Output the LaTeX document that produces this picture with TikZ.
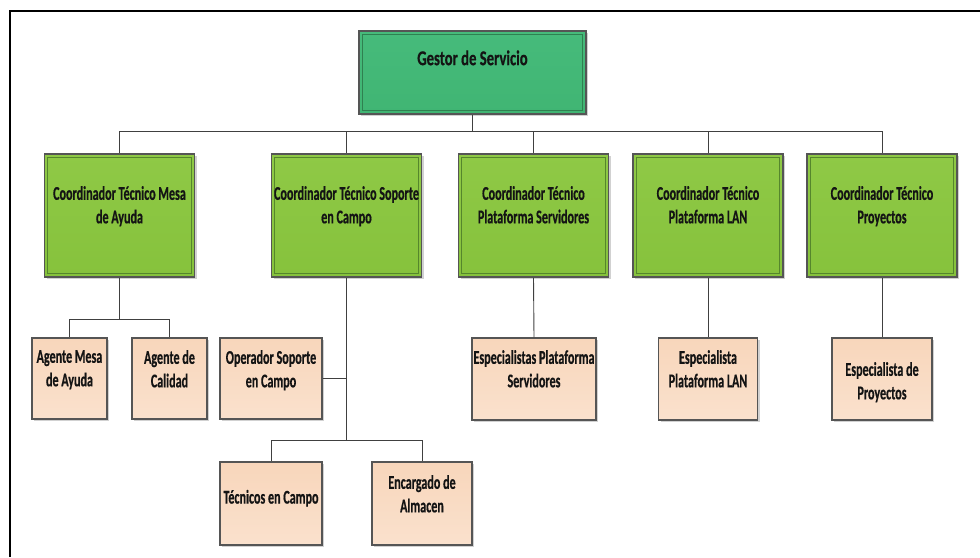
\documentclass[tikz,border=0pt]{standalone}
\usepackage{fontspec}
\usetikzlibrary{shadows}
\newfontfamily\orgfont[FakeStretch=0.62, FakeBold=0.5]{Carlito}
\newfontfamily\topfont[FakeStretch=0.70, FakeBold=0.5]{Carlito}
\definecolor{edgegray}{HTML}{555555}
\definecolor{linkgray}{HTML}{404040}
\definecolor{topfill}{HTML}{46BB7B}
\definecolor{topfilldark}{HTML}{40B573}
\definecolor{topinner}{HTML}{2F8050}
\definecolor{midfill}{HTML}{8FC946}
\definecolor{midfilldark}{HTML}{86C23C}
\definecolor{midinner}{HTML}{55862C}
\definecolor{lowtop}{HTML}{F8D6BB}
\definecolor{lowbottom}{HTML}{FAE1CD}
\tikzset{
  shadowed/.style={drop shadow={shadow xshift=2pt, shadow yshift=-2pt, opacity=0.3, fill=black!60}},
  innerframe/.style={path picture={
      \draw[#1, line width=1.3pt]
        ([shift={(3.2pt,-3.2pt)}]path picture bounding box.north west) rectangle
        ([shift={(-3.2pt,3.2pt)}]path picture bounding box.south east);}},
  boxbase/.style={rectangle, inner sep=0pt, draw=edgegray, line width=1.1pt, shadowed},
  topbox/.style={boxbase, minimum width=227pt, minimum height=83pt,
      top color=topfill, bottom color=topfilldark, innerframe=topinner},
  midbox/.style={boxbase, minimum width=150pt, minimum height=123pt,
      top color=midfill, bottom color=midfilldark, innerframe=midinner},
  lowbox/.style={boxbase, top color=lowtop, bottom color=lowbottom},
  toptext/.style={anchor=north, inner sep=0pt, align=center,
      font=\topfont\bfseries\fontsize{21}{25}\selectfont, text=black!92,
      execute at begin node=\strut},
  orgtext/.style={anchor=north, inner sep=0pt, align=center,
      font=\orgfont\bfseries\fontsize{19.5}{23.5}\selectfont, text=black!92,
      execute at begin node=\strut},
  link/.style={draw=linkgray, line width=0.9pt},
}
\begin{document}
\begin{tikzpicture}[x=1pt, y=-1pt]
  \useasboundingbox (0,0) rectangle (980,557);
  % page frame
  \draw[line width=2.4pt] (10,557) -- (10,11) -- (980,11);

  % top level
  \node[topbox, label={[toptext, name=gt, yshift=-17pt]north:Gestor de Servicio}] (g) at (472.5,72.5) {};

  % coordinators
  \node[midbox, label={[orgtext, name=c1t, yshift=-32.5pt]north:{Coordinador Técnico Mesa\\de Ayuda}}] (c1) at (119.5,215.5) {};
  \node[midbox, label={[orgtext, name=c2t, yshift=-32.5pt]north:{Coordinador Técnico Soporte\\en Campo}}] (c2) at (346.5,215.5) {};
  \node[midbox, label={[orgtext, name=c3t, yshift=-32.5pt]north:{Coordinador Técnico\\Plataforma Servidores}}] (c3) at (533.5,215.5) {};
  \node[midbox, label={[orgtext, name=c4t, yshift=-32.5pt]north:{Coordinador Técnico\\Plataforma LAN}}] (c4) at (708,215.5) {};
  \node[midbox, label={[orgtext, name=c5t, yshift=-32.5pt]north:{Coordinador Técnico\\Proyectos}}] (c5) at (882,215.5) {};

  % staff
  \node[lowbox, minimum width=75pt, minimum height=81pt,
        label={[orgtext, name=a1t, yshift=-12.5pt]north:{Agente Mesa\\de Ayuda}}] (a1) at (69.5,378.5) {};
  \node[lowbox, minimum width=75pt, minimum height=81pt,
        label={[orgtext, name=a2t, yshift=-12.5pt]north:{Agente de\\Calidad}}] (a2) at (169.5,378.5) {};
  \node[lowbox, minimum width=102pt, minimum height=81pt,
        label={[orgtext, name=opt, yshift=-12.5pt]north:{Operador Soporte\\en Campo}}] (op) at (271,378.5) {};
  \node[lowbox, minimum width=102pt, minimum height=83pt,
        label={[orgtext, name=tct, yshift=-25.5pt]north:{Técnicos en Campo}}] (tc) at (271,503.5) {};
  \node[lowbox, minimum width=100pt, minimum height=83pt,
        label={[orgtext, name=ent, yshift=-13.5pt]north:{Encargado de\\Almacen}}] (en) at (422,503.5) {};
  \node[lowbox, minimum width=124pt, minimum height=82pt,
        label={[orgtext, name=s1t, yshift=-12.5pt]north:{Especialistas Plataforma\\Servidores}}] (s1) at (534,379) {};
  \node[lowbox, minimum width=99pt, minimum height=82pt,
        label={[orgtext, name=s2t, yshift=-12.5pt]north:{Especialista\\Plataforma LAN}}] (s2) at (708,379) {};
  \node[lowbox, minimum width=100pt, minimum height=82pt,
        label={[orgtext, name=s3t, yshift=-24.5pt]north:{Especialista de\\Proyectos}}] (s3) at (882,379) {};

  % bus levels
  \coordinate (busA) at (0,131);
  \coordinate (busB) at (0,319);
  \coordinate (busC) at (0,440);

  % connectors
  \foreach \c in {c1,c2,c3,c4,c5}
    \draw[link] (g.south) -- (g.south |- busA) -| (\c.north);
  \draw[link] (c1.south) -- (c1.south |- busB) -| (a1.north);
  \draw[link] (c1.south |- busB) -| (a2.north);
  \draw[link] (c2.south) -- (c2.south |- busC) -| (tc.north);
  \draw[link] (c2.south |- busC) -| (en.north);
  \draw[link] (op.east) -- (op.east -| c2.south);
  \draw[link] (c3.south) -- (s1.north);
  \draw[link] (c4.south) -- (c4.south |- s2.north);
  \draw[link] (c5.south) -- (s3.north);
\end{tikzpicture}
\end{document}
